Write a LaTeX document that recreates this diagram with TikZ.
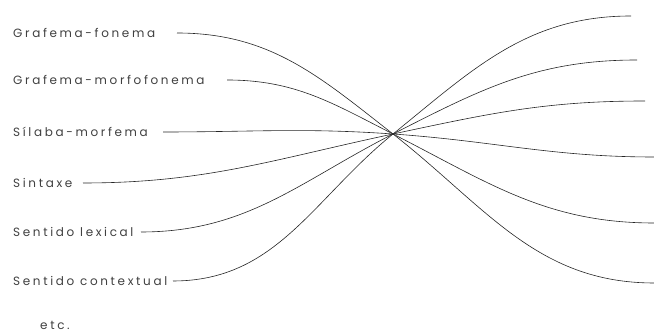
\documentclass[tikz,border=0pt]{standalone}
\usepackage{fontspec}
\setmainfont{Poppins}[LetterSpace=22]
\begin{document}
\begin{tikzpicture}[x=1pt,y=1pt,
  lbl/.style={anchor=west,inner sep=0pt,text=black!75,font=\fontsize{12}{14}\selectfont},
  conn/.style={draw=black!85,line width=0.6pt}]
\useasboundingbox (0,0) rectangle (654,336);
% center crossing
\coordinate (c) at (393,202);
% labels (y_tikz = 336 - y_px)
\node[lbl] (l1) at (13,303) {Grafema-fonema};
\node[lbl] (l2) at (13,256) {Grafema-morfofonema};
\node[lbl] (l3) at (13,204) {Sílaba-morfema};
\node[lbl] (l4) at (13,153) {Sintaxe};
\node[lbl] (l5) at (13,104) {Sentido lexical};
\node[lbl] (l6) at (13,55) {Sentido contextual};
\node[lbl,anchor=south west] (etc) at (40,6) {etc.};
% left starts
\coordinate (s1) at (177,303);
\coordinate (s2) at (227,256);
\coordinate (s3) at (163,204);
\coordinate (s4) at (83,153);
\coordinate (s5) at (141,104);
\coordinate (s6) at (173,55);
% right ends
\coordinate (e1) at (631,320);
\coordinate (e2) at (637,276);
\coordinate (e3) at (645,235);
\coordinate (e4) at (654,179);
\coordinate (e5) at (654,113);
\coordinate (e6) at (654,53);
% curves
\draw[conn] (s1) to[out=0,in=142] (c) to[out=-38,in=180] (e6);
\draw[conn] (s2) to[out=0,in=153] (c) to[out=-27,in=180] (e5);
\draw[conn] (s3) to[out=0,in=176] (c) to[out=-4,in=180] (e4);
\draw[conn] (s4) to[out=0,in=192] (c) to[out=12,in=180] (e3);
\draw[conn] (s5) to[out=0,in=207] (c) to[out=27,in=180] (e2);
\draw[conn] (s6) to[out=0,in=219] (c) to[out=39,in=180] (e1);
\end{tikzpicture}
\end{document}
